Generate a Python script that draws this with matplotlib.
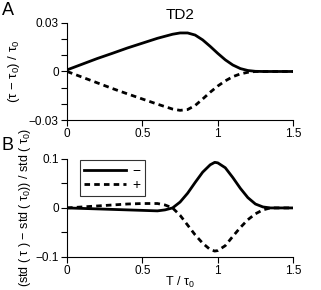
import numpy as np
import matplotlib
matplotlib.use("Agg")
import matplotlib.pyplot as plt
from matplotlib.ticker import MultipleLocator

# panel A: relative change of tau
T_a = [0, 0.1, 0.2, 0.3, 0.4, 0.5, 0.6, 0.7, 0.75, 0.8, 0.85, 0.9, 0.95,
       1.0, 1.05, 1.1, 1.15, 1.2, 1.25, 1.3, 1.4, 1.5]
tau_minus = [0.001, 0.0045, 0.008, 0.0112, 0.0145, 0.0175, 0.0205, 0.0230,
             0.0238, 0.0238, 0.0225, 0.0195, 0.0155, 0.0112, 0.0072, 0.004,
             0.0018, 0.0006, 0.0001, 0.0, 0.0, 0.0]
tau_plus = [0.0, -0.0035, -0.007, -0.0105, -0.0138, -0.017, -0.0202, -0.0232,
            -0.024, -0.0235, -0.021, -0.017, -0.0128, -0.009, -0.0058, -0.0032,
            -0.0015, -0.0005, 0.0, 0.0, 0.0, 0.0]

# panel B: relative change of std
T_b = [0, 0.1, 0.2, 0.3, 0.4, 0.5, 0.6, 0.65, 0.7, 0.75, 0.8, 0.85, 0.9,
       0.95, 0.98, 1.0, 1.05, 1.1, 1.15, 1.2, 1.25, 1.3, 1.35, 1.4, 1.5]
std_minus = [0, -0.001, -0.002, -0.003, -0.004, -0.005, -0.006, -0.004, 0.0,
             0.012, 0.03, 0.052, 0.073, 0.088, 0.093, 0.092, 0.082, 0.062,
             0.04, 0.021, 0.008, 0.002, 0.0, 0.0, 0.0]
std_plus = [0, 0.002, 0.004, 0.006, 0.008, 0.009, 0.009, 0.006, 0.0, -0.015,
            -0.035, -0.055, -0.072, -0.085, -0.088, -0.087, -0.077, -0.058,
            -0.04, -0.024, -0.012, -0.004, 0.0, 0.0, 0.0]

plt.rcParams['font.family'] = ['Liberation Sans', 'DejaVu Sans']
plt.rcParams['font.size'] = 8.5
plt.rcParams['mathtext.fontset'] = 'custom'
plt.rcParams['mathtext.rm'] = 'Liberation Sans'
plt.rcParams['mathtext.it'] = 'Liberation Sans'

fig = plt.figure(figsize=(3.21, 2.90), dpi=100)
axA = fig.add_axes([0.209, 0.586, 0.704, 0.335])
axB = fig.add_axes([0.209, 0.114, 0.704, 0.338])

for ax in (axA, axB):
    ax.spines['top'].set_visible(False)
    ax.spines['right'].set_visible(False)
    ax.set_xlim(0, 1.5)
    ax.set_xticks([0, 0.5, 1, 1.5])
    ax.set_xticklabels(['0', '0.5', '1', '1.5'])
    ax.tick_params(direction='out', length=4, width=0.8, pad=2)
    ax.tick_params(which='minor', direction='out', length=4, width=0.8)

axA.plot(T_a, tau_minus, color='black', lw=2)
axA.plot(T_a, tau_plus, color='black', lw=2, ls=(0, (2, 1.5)))
axA.set_ylim(-0.03, 0.03)
axA.set_yticks([-0.03, 0, 0.03])
axA.set_yticklabels(['\u22120.03', '0', '0.03'])
axA.yaxis.set_minor_locator(MultipleLocator(0.01))
axA.set_ylabel('(\u03c4 \u2212 \u03c4$_0$) / \u03c4$_0$', fontsize=9.5, labelpad=5)
axA.set_title('TD2', fontsize=11, pad=3)

axB.plot(T_b, std_minus, color='black', lw=2, label='\u2212')
axB.plot(T_b, std_plus, color='black', lw=2, ls=(0, (2, 1.5)), label='+')
axB.set_ylim(-0.1, 0.1)
axB.set_yticks([-0.1, 0, 0.1])
axB.set_yticklabels(['\u22120.1', '0', '0.1'])
axB.yaxis.set_minor_locator(MultipleLocator(0.05))
axB.set_ylabel('(std ( \u03c4 ) \u2212 std ( \u03c4$_0$)) / std ( \u03c4$_0$)',
               fontsize=9, labelpad=2)
axB.set_xlabel('T / \u03c4$_0$', fontsize=9, labelpad=-2)
leg = axB.legend(loc='upper left', bbox_to_anchor=(0.025, 1.06), frameon=True,
                 fancybox=False, edgecolor='black', handlelength=3.0,
                 fontsize=10, borderpad=0.3, labelspacing=0.0, handletextpad=0.5)
leg.get_frame().set_linewidth(0.8)

fig.text(0.005, 0.965, 'A', fontsize=13, va='center')
fig.text(0.005, 0.498, 'B', fontsize=13, va='center')

fig.savefig('out.png', dpi=100)
